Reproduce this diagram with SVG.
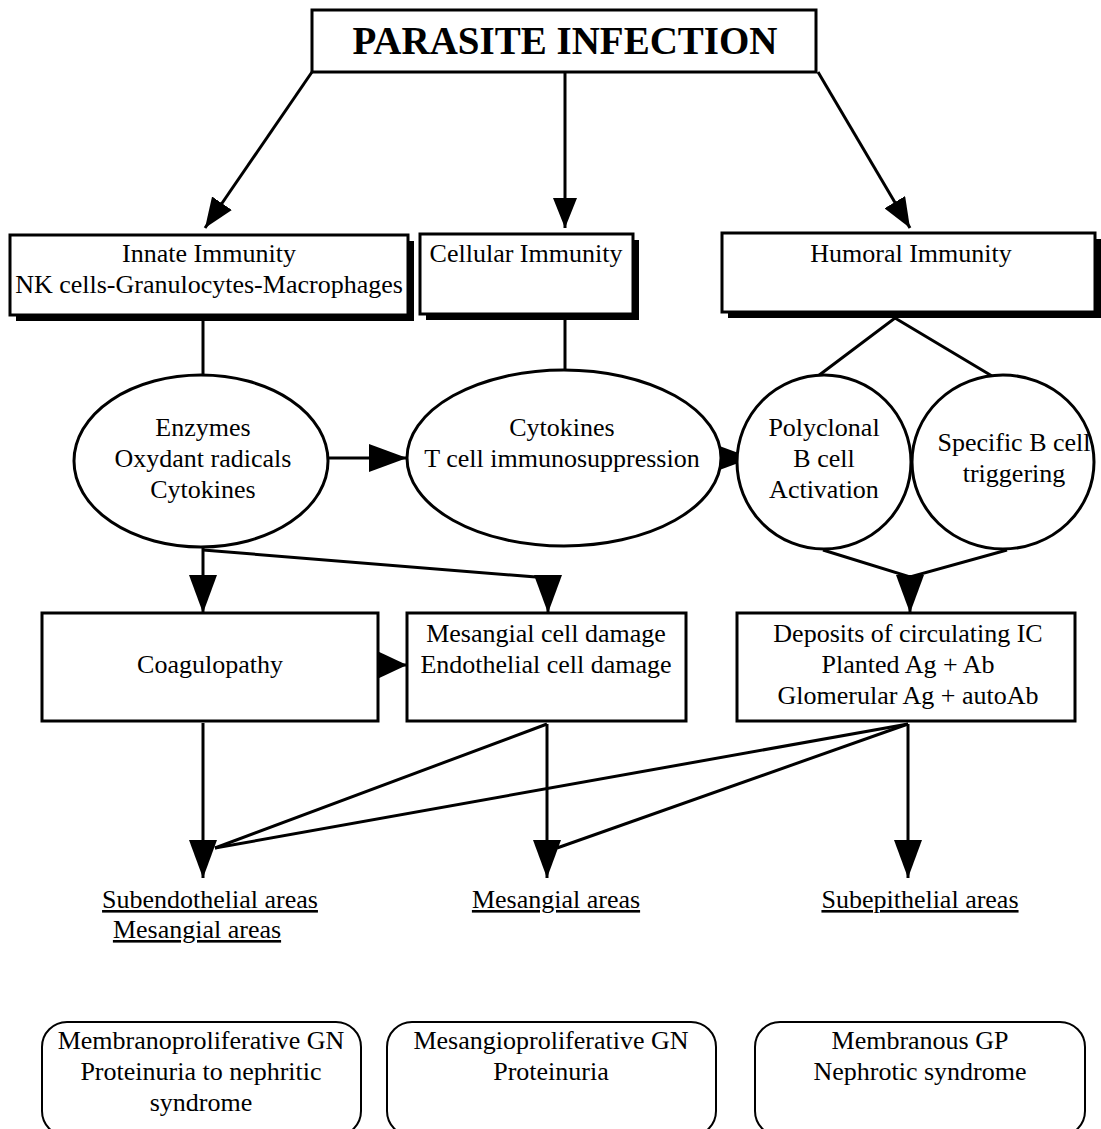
<svg xmlns="http://www.w3.org/2000/svg" width="1101" height="1129" viewBox="0 0 1101 1129">
<style>
text{font-family:"Liberation Serif","Times New Roman",serif;font-size:26px;fill:#000;text-anchor:middle}
.title{font-size:39px;font-weight:bold}
.u{text-decoration:underline}
.box{fill:#fff;stroke:#000;stroke-width:3}
.sh{fill:#000}
.ell{fill:#fff;stroke:#000;stroke-width:3}
.rbox{fill:#fff;stroke:#000;stroke-width:2}
.c{fill:none;stroke:#000;stroke-width:3}
</style>
<defs>
<marker id="aS" markerUnits="userSpaceOnUse" markerWidth="30" markerHeight="24" refX="30" refY="12" orient="auto"><path d="M0,0 L30,12 L0,24 z" fill="#000"/></marker>
<marker id="aL" markerUnits="userSpaceOnUse" markerWidth="38" markerHeight="28" refX="38" refY="14" orient="auto"><path d="M0,0 L38,14 L0,28 z" fill="#000"/></marker>
<marker id="aM" markerUnits="userSpaceOnUse" markerWidth="32" markerHeight="30" refX="32" refY="15" orient="auto"><path d="M0,0 L32,15 L0,30 z" fill="#000"/></marker>
</defs>
<g id="connectors">
<line class="c" x1="312" y1="72" x2="205" y2="228" marker-end="url(#aS)"/>
<line class="c" x1="565" y1="72" x2="565" y2="228" marker-end="url(#aS)"/>
<line class="c" x1="818" y1="72" x2="910" y2="228" marker-end="url(#aS)"/>
<line class="c" x1="203" y1="318" x2="203" y2="376"/>
<line class="c" x1="565" y1="318" x2="565" y2="372"/>
<polyline class="c" points="818,376 895,318 992,376"/>
<line class="c" x1="327" y1="458" x2="407" y2="458" marker-end="url(#aL)"/>
<line class="c" x1="720" y1="458" x2="752" y2="458" marker-end="url(#aL)"/>
<line class="c" x1="203" y1="548" x2="203" y2="613" marker-end="url(#aL)"/>
<polyline class="c" points="203,550 548,578 548,613" marker-end="url(#aL)"/>
<polyline class="c" points="823,550 910,577 1007,550"/>
<line class="c" x1="910" y1="577" x2="910" y2="613" marker-end="url(#aL)"/>
<line class="c" x1="376" y1="665" x2="407" y2="665" marker-end="url(#aM)"/>
<line class="c" x1="203" y1="723" x2="203" y2="878" marker-end="url(#aL)"/>
<line class="c" x1="547" y1="724" x2="547" y2="878" marker-end="url(#aL)"/>
<line class="c" x1="547" y1="724" x2="215" y2="848"/>
<line class="c" x1="908" y1="724" x2="908" y2="878" marker-end="url(#aL)"/>
<line class="c" x1="908" y1="724" x2="215" y2="848"/>
<line class="c" x1="908" y1="724" x2="557" y2="848"/>
</g>
<g id="parasite-infection">
<rect class="box" x="312" y="10" width="504" height="62"/>
<text class="title" x="565" y="54">PARASITE INFECTION</text>
</g>
<g id="innate-immunity">
<rect class="sh" x="16" y="241" width="398" height="80"/>
<rect class="box" x="10" y="235" width="398" height="80" stroke-width="2"/>
<text x="209" y="262">Innate Immunity</text>
<text x="209" y="293">NK cells-Granulocytes-Macrophages</text>
</g>
<g id="cellular-immunity">
<rect class="sh" x="426" y="240" width="213" height="80"/>
<rect class="box" x="420" y="234" width="213" height="80" stroke-width="2"/>
<text x="526" y="262">Cellular Immunity</text>
</g>
<g id="humoral-immunity">
<rect class="sh" x="728" y="239" width="373" height="79"/>
<rect class="box" x="722" y="233" width="373" height="79" stroke-width="2"/>
<text x="911" y="262">Humoral Immunity</text>
</g>
<g id="enzymes">
<ellipse class="ell" cx="201" cy="461" rx="127" ry="86"/>
<text x="203" y="436">Enzymes</text>
<text x="203" y="467">Oxydant radicals</text>
<text x="203" y="498">Cytokines</text>
</g>
<g id="cytokines">
<ellipse class="ell" cx="564" cy="458" rx="157" ry="88"/>
<text x="562" y="436">Cytokines</text>
<text x="562" y="467">T cell immunosuppression</text>
</g>
<g id="polyclonal">
<ellipse class="ell" cx="824" cy="462" rx="87" ry="87"/>
<text x="824" y="436">Polyclonal</text>
<text x="824" y="467">B cell</text>
<text x="824" y="498">Activation</text>
</g>
<g id="specific">
<ellipse class="ell" cx="1003" cy="462" rx="91" ry="87"/>
<text x="1014" y="451">Specific B cell</text>
<text x="1014" y="482">triggering</text>
</g>
<g id="coagulopathy">
<rect class="box" x="42" y="613" width="336" height="108"/>
<text x="210" y="673">Coagulopathy</text>
</g>
<g id="cell-damage">
<rect class="box" x="407" y="613" width="279" height="108"/>
<text x="546" y="642">Mesangial cell damage</text>
<text x="546" y="673">Endothelial cell damage</text>
</g>
<g id="deposits">
<rect class="box" x="737" y="613" width="338" height="108"/>
<text x="908" y="642">Deposits of circulating IC</text>
<text x="908" y="673">Planted Ag + Ab</text>
<text x="908" y="704">Glomerular Ag + autoAb</text>
</g>
<g id="subendothelial">
<text class="u" x="210" y="908">Subendothelial areas</text>
<text class="u" x="197" y="938">Mesangial areas</text>
</g>
<g id="mesangial">
<text class="u" x="556" y="908">Mesangial areas</text>
</g>
<g id="subepithelial">
<text class="u" x="920" y="908">Subepithelial areas</text>
</g>
<g id="membranoproliferative">
<rect class="rbox" x="42" y="1022" width="319" height="114" rx="25" ry="25"/>
<text x="201" y="1049">Membranoproliferative GN</text>
<text x="201" y="1080">Proteinuria to nephritic</text>
<text x="201" y="1111">syndrome</text>
</g>
<g id="mesangioproliferative">
<rect class="rbox" x="387" y="1022" width="329" height="114" rx="25" ry="25"/>
<text x="551" y="1049">Mesangioproliferative GN</text>
<text x="551" y="1080">Proteinuria</text>
</g>
<g id="membranous">
<rect class="rbox" x="755" y="1022" width="330" height="114" rx="25" ry="25"/>
<text x="920" y="1049">Membranous GP</text>
<text x="920" y="1080">Nephrotic syndrome</text>
</g>
</svg>
